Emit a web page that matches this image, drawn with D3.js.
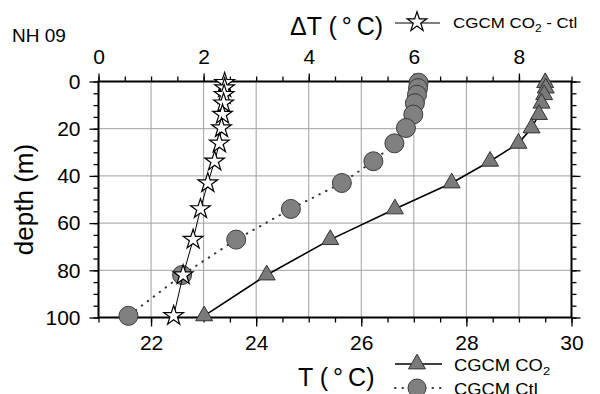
<!DOCTYPE html>
<head>
<meta charset="utf-8">
<style>
body { margin: 0; background: #fff; }
text { font-family: "Liberation Sans", Arial, sans-serif; fill: #000; }
.grid line { stroke: #a0a0a0; stroke-width: 1; }
.axis path { display: none; }
.axis line { stroke: #000; stroke-width: 1.3; }
.axis text { font-size: 21px; }
</style>
</head>
<body>
<script src="https://cdnjs.cloudflare.com/ajax/libs/d3/7.8.5/d3.min.js"></script>
<script>

// model levels (m)
var depth = [0.5, 2.8, 5.6, 9.2, 14, 19.7, 26.2, 33.8, 43, 54, 67, 82, 99.3];
// CGCM CO2 temperature (deg C)
var tempCO2 = [29.50, 29.51, 29.48, 29.43, 29.38, 29.24, 28.99, 28.45, 27.72, 26.64, 25.41, 24.20, 23.01];
// CGCM Ctl temperature (deg C)
var tempCtl = [27.09, 27.08, 27.06, 27.02, 26.99, 26.85, 26.63, 26.23, 25.63, 24.66, 23.62, 22.59, 21.57];
// CO2 - Ctl difference (deg C)
var deltaT = [2.40, 2.40, 2.39, 2.38, 2.36, 2.34, 2.30, 2.21, 2.08, 1.94, 1.80, 1.61, 1.43];

var tTicks = [22, 24, 26, 28, 30];
var dtTicks = [0, 2, 4, 6, 8];
var depthTicks = [0, 20, 40, 60, 80, 100];

var width = 600,
    height = 394;

var x = d3.scaleLinear().domain([21, 30]).range([98.5, 571.5]);
var xd = d3.scaleLinear().domain([0, 9]).range([98.5, 571.5]);
var y = d3.scaleLinear().domain([0, 100]).range([81.5, 317.5]);

var svg = d3.select("body").append("svg")
    .attr("width", width)
    .attr("height", height);

// grid
var grid = svg.append("g").attr("class", "grid");
grid.selectAll(".gx")
    .data(d3.range(22, 30))
    .enter().append("line")
    .attr("x1", function(d) { return x(d); })
    .attr("x2", function(d) { return x(d); })
    .attr("y1", y(0))
    .attr("y2", y(100));
grid.selectAll(".gy")
    .data([20, 40, 60, 80])
    .enter().append("line")
    .attr("x1", x(21))
    .attr("x2", x(30))
    .attr("y1", function(d) { return y(d); })
    .attr("y2", function(d) { return y(d); });

// minor ticks
svg.append("g").attr("class", "axis")
    .attr("transform", "translate(0," + y(100) + ")")
    .call(d3.axisBottom(x).tickValues(d3.range(21, 30.01, 0.5)).tickSize(5).tickFormat(""));
svg.append("g").attr("class", "axis")
    .attr("transform", "translate(0," + y(0) + ")")
    .call(d3.axisTop(xd).tickValues(d3.range(0, 9.01, 0.5)).tickSize(5).tickFormat(""));
svg.append("g").attr("class", "axis")
    .attr("transform", "translate(" + x(21) + ",0)")
    .call(d3.axisLeft(y).tickValues(d3.range(0, 100.1, 5)).tickSize(5).tickFormat(""));
svg.append("g").attr("class", "axis")
    .attr("transform", "translate(" + x(30) + ",0)")
    .call(d3.axisRight(y).tickValues(d3.range(0, 100.1, 5)).tickSize(5).tickFormat(""));

// major ticks
svg.append("g").attr("class", "axis")
    .attr("transform", "translate(0," + y(100) + ")")
    .call(d3.axisBottom(x).tickValues(tTicks).tickSize(9).tickPadding(9).tickFormat(d3.format("d")));
svg.append("g").attr("class", "axis")
    .attr("transform", "translate(0," + y(0) + ")")
    .call(d3.axisTop(xd).tickValues(dtTicks).tickSize(8).tickPadding(10).tickFormat(d3.format("d")));
svg.append("g").attr("class", "axis")
    .attr("transform", "translate(" + x(21) + ",0)")
    .call(d3.axisLeft(y).tickValues(depthTicks).tickSize(9).tickPadding(9).tickFormat(d3.format("d")));
svg.append("g").attr("class", "axis")
    .attr("transform", "translate(" + x(30) + ",0)")
    .call(d3.axisRight(y).tickValues(depthTicks).tickSize(9).tickFormat(""));

svg.selectAll(".axis text").attr("fill", "#000");

// frame
svg.append("rect")
    .attr("x", x(21))
    .attr("y", y(0))
    .attr("width", x(30) - x(21))
    .attr("height", y(100) - y(0))
    .attr("fill", "none")
    .attr("stroke", "#000")
    .attr("stroke-width", 2);

var ctl = depth.map(function(d, i) { return [x(tempCtl[i]), y(d)]; });
var co2 = depth.map(function(d, i) { return [x(tempCO2[i]), y(d)]; });
var dt = depth.map(function(d, i) { return [xd(deltaT[i]), y(d)]; });

var line = d3.line();
var triangle = d3.symbol().type(d3.symbolTriangle).size(125);
var star = d3.symbol().type(d3.symbolStar).size(120);

// Ctl
svg.append("path")
    .attr("d", line(ctl))
    .attr("fill", "none")
    .attr("stroke", "#333")
    .attr("stroke-width", 2)
    .attr("stroke-linecap", "round")
    .attr("stroke-dasharray", "0.5,7");
svg.selectAll(".ctl")
    .data(ctl)
    .enter().append("circle")
    .attr("class", "ctl")
    .attr("cx", function(d) { return d[0]; })
    .attr("cy", function(d) { return d[1]; })
    .attr("r", 9.5)
    .attr("fill", "#808080")
    .attr("stroke", "#3a3a3a")
    .attr("stroke-width", 1);

// CO2
svg.append("path")
    .attr("d", line(co2))
    .attr("fill", "none")
    .attr("stroke", "#000")
    .attr("stroke-width", 1.6);
svg.selectAll(".co2")
    .data(co2)
    .enter().append("path")
    .attr("class", "co2")
    .attr("d", triangle)
    .attr("transform", function(d) { return "translate(" + d[0] + "," + d[1] + ")"; })
    .attr("fill", "#7a7a7a")
    .attr("stroke", "#333")
    .attr("stroke-width", 1);

// CO2 - Ctl
svg.append("path")
    .attr("d", line(dt))
    .attr("fill", "none")
    .attr("stroke", "#000")
    .attr("stroke-width", 1);
svg.selectAll(".dt")
    .data(dt)
    .enter().append("path")
    .attr("class", "dt")
    .attr("d", star)
    .attr("transform", function(d) { return "translate(" + d[0] + "," + d[1] + ")"; })
    .attr("fill", "#fff")
    .attr("stroke", "#000")
    .attr("stroke-width", 1.2);

// labels
svg.append("text")
    .attr("x", 12)
    .attr("y", 42)
    .style("font-size", "19px")
    .text("NH 09");

svg.append("text")
    .attr("x", 290)
    .attr("y", 35)
    .style("font-size", "25px")
    .text("\u0394T (\u2009\u00b0\u2009C)");

svg.append("text")
    .attr("x", 298)
    .attr("y", 386)
    .style("font-size", "25px")
    .text("T (\u2009\u00b0\u2009C)");

svg.append("text")
    .attr("transform", "translate(33," + y(50) + ") rotate(-90)")
    .attr("text-anchor", "middle")
    .style("font-size", "26px")
    .text("depth (m)");

// legends
function legendText(px, py, size, sx, parts) {
  var t = svg.append("text")
      .attr("transform", "translate(" + px + "," + py + ") scale(" + sx + ",1)")
      .style("font-size", size + "px");
  parts.forEach(function(p) {
    var s = t.append("tspan").text(p.text);
    if (p.sub) s.attr("dy", 4).style("font-size", (size * 0.7) + "px");
    if (p.after) s.attr("dy", -4);
  });
}

svg.append("line")
    .attr("x1", 395).attr("x2", 440)
    .attr("y1", 23).attr("y2", 23)
    .attr("stroke", "#000").attr("stroke-width", 1);
svg.append("path")
    .attr("d", star)
    .attr("transform", "translate(417,22)")
    .attr("fill", "#fff").attr("stroke", "#000").attr("stroke-width", 1.2);
legendText(453, 28, 15, 1.13, [{text: "CGCM CO"}, {text: "2", sub: true}, {text: " - Ctl", after: true}]);

svg.append("line")
    .attr("x1", 395).attr("x2", 442)
    .attr("y1", 364).attr("y2", 364)
    .attr("stroke", "#000").attr("stroke-width", 1.6);
svg.append("path")
    .attr("d", triangle)
    .attr("transform", "translate(417,364)")
    .attr("fill", "#7a7a7a").attr("stroke", "#333").attr("stroke-width", 1);
legendText(454, 371, 16, 1.15, [{text: "CGCM CO"}, {text: "2", sub: true}]);

svg.append("line")
    .attr("x1", 395).attr("x2", 442)
    .attr("y1", 388).attr("y2", 388)
    .attr("stroke", "#333").attr("stroke-width", 2)
    .attr("stroke-linecap", "round")
    .attr("stroke-dasharray", "0.5,7");
svg.append("circle")
    .attr("cx", 417).attr("cy", 388).attr("r", 9)
    .attr("fill", "#808080").attr("stroke", "#3a3a3a");
legendText(454, 395, 16, 1.15, [{text: "CGCM Ctl"}]);

</script>
</body>
</html>
